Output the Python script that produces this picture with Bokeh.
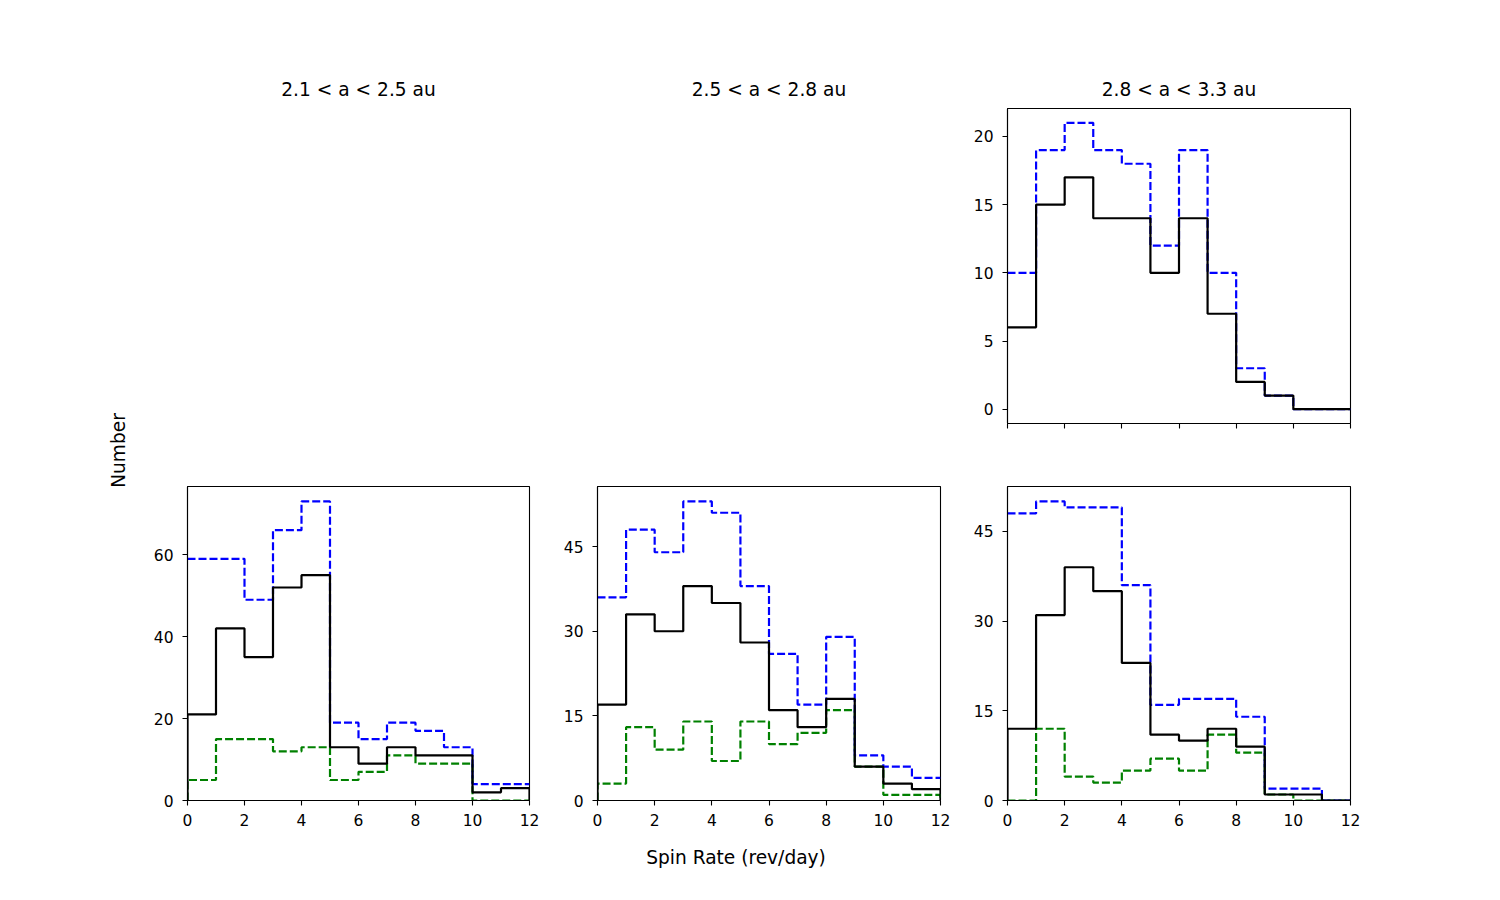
import numpy as np
from bokeh.plotting import figure
from bokeh.layouts import row, column
from bokeh.models import Range1d, FixedTicker, Label
from bokeh.embed import file_html
from bokeh.resources import INLINE

# ---------------- data ----------------
edges = list(range(0, 13))  # spin-rate bin edges (rev/day)

titles = ["2.1 < a < 2.5 au", "2.5 < a < 2.8 au", "2.8 < a < 3.3 au"]

# top-right panel (2.8 < a < 3.3 au, upper)
top_black = [6, 15, 17, 14, 14, 10, 14, 7, 2, 1, 0, 0]
top_blue = [10, 19, 21, 19, 18, 12, 19, 10, 3, 1, 0, 0]

# bottom-left (2.1 < a < 2.5 au)
inner_black = [21, 42, 35, 52, 55, 13, 9, 13, 11, 11, 2, 3]
inner_blue = [59, 59, 49, 66, 73, 19, 15, 19, 17, 13, 4, 4]
inner_green = [5, 15, 15, 12, 13, 5, 7, 11, 9, 9, 0, 0]

# bottom-middle (2.5 < a < 2.8 au)
mid_black = [17, 33, 30, 38, 35, 28, 16, 13, 18, 6, 3, 2]
mid_blue = [36, 48, 44, 53, 51, 38, 26, 17, 29, 8, 6, 4]
mid_green = [3, 13, 9, 14, 7, 14, 10, 12, 16, 6, 1, 1]

# bottom-right (2.8 < a < 3.3 au)
outer_black = [12, 31, 39, 35, 23, 11, 10, 12, 9, 1, 1, 0]
outer_blue = [48, 50, 49, 49, 36, 16, 17, 17, 14, 2, 2, 0]
outer_green = [0, 12, 4, 3, 5, 7, 5, 11, 8, 1, 0, 0]

x_ticks = [0, 2, 4, 6, 8, 10, 12]
top_y_ticks = [0, 5, 10, 15, 20]
inner_y_ticks = [0, 20, 40, 60]
mid_y_ticks = [0, 15, 30, 45]
outer_y_ticks = [0, 15, 30, 45]

x_label = "Spin Rate (rev/day)"
y_label = "Number"

# ---------------- style ----------------
FONT = "DejaVu Sans"
TICK_FS = "15.5px"
LABEL_FS = "18.6px"
BLUE = "#0000ff"
GREEN = "#008000"
DASH = "8 3"
LW = 2.2


def hist_path(counts, closed=True):
    e = np.asarray(edges, dtype=float)
    c = np.asarray(counts, dtype=float)
    xs = np.repeat(e, 2)
    ys = np.concatenate([[0.0], np.repeat(c, 2), [0.0]])
    if not closed:
        xs = xs[1:-1]
        ys = ys[1:-1]
    return xs, ys


def style_title(p):
    p.title.text_font = FONT
    p.title.text_font_size = LABEL_FS
    p.title.text_font_style = "normal"
    p.title.align = "center"
    p.title.text_color = "black"
    p.title.standoff = 17


def blank_fig(width, height, xr, yr, title=None, **kw):
    p = figure(width=width, height=height, x_range=Range1d(*xr), y_range=Range1d(*yr),
               x_axis_location=None, y_axis_location=None,
               toolbar_location=None, output_backend="svg", title=title, **kw)
    p.outline_line_color = None
    p.grid.visible = False
    if title is not None:
        style_title(p)
    return p


def panel(width, bl, br, height, bt, bb, yr, yticks, show_xlabels=True, title=None):
    p = figure(width=width, height=height, min_border_left=bl, min_border_right=br,
               min_border_top=bt, min_border_bottom=bb,
               x_range=Range1d(0, 12), y_range=Range1d(*yr),
               toolbar_location=None, output_backend="svg", title=title)
    p.grid.visible = False
    p.outline_line_color = "black"
    p.outline_line_width = 1.1
    for ax, ticks, so in ((p.xaxis[0], x_ticks, 8), (p.yaxis[0], yticks, 9)):
        ax.ticker = FixedTicker(ticks=ticks)
        ax.minor_tick_line_color = None
        ax.major_tick_in = 0
        ax.major_tick_out = 5
        ax.major_tick_line_color = "black"
        ax.major_tick_line_width = 1.1
        ax.axis_line_color = "black"
        ax.axis_line_width = 1.1
        ax.major_label_text_font = FONT
        ax.major_label_text_font_size = TICK_FS
        ax.major_label_text_color = "black"
        ax.major_label_standoff = so
    if not show_xlabels:
        p.xaxis[0].major_label_text_color = None
    if title is not None:
        style_title(p)
    return p


def add_hist(p, counts, color, dash, closed=True):
    xs, ys = hist_path(counts, closed)
    p.line(xs, ys, line_color=color, line_width=LW, line_dash=dash)


# geometry (columns: 150 | 403 | 410 | 537)
TOP_H, TOP_BT, TOP_BB = 455, 108, 32
BOT_H, BOT_BT, BOT_BB = 380, 31, 35
STRIP_H = 65
C1 = dict(width=403, left=37, right=24)
C2 = dict(width=410, left=44, right=23)
C3 = dict(width=537, left=44, right=150)

# y-label strip (full height, left)
ylab = blank_fig(150, 900, (0, 150), (0, 900), min_border=0)
ylab.add_layout(Label(x=118, y=450, text=y_label, angle=np.pi / 2, text_align="center",
                      text_baseline="middle", text_font=FONT, text_font_size=LABEL_FS,
                      text_color="black"))

# top row
tl = blank_fig(C1["width"], TOP_H, (0, 1), (0, 1), title=titles[0], min_border_left=C1["left"],
               min_border_right=C1["right"], min_border_top=TOP_BT, min_border_bottom=TOP_BB)
tm = blank_fig(C2["width"], TOP_H, (0, 1), (0, 1), title=titles[1], min_border_left=C2["left"],
               min_border_right=C2["right"], min_border_top=TOP_BT, min_border_bottom=TOP_BB)
tr = panel(C3["width"], C3["left"], C3["right"], TOP_H, TOP_BT, TOP_BB, (-1.05, 22.05),
           top_y_ticks, show_xlabels=False, title=titles[2])
add_hist(tr, top_blue, BLUE, DASH, closed=False)
add_hist(tr, top_black, "black", "solid", closed=False)

# bottom row
bl = panel(C1["width"], C1["left"], C1["right"], BOT_H, BOT_BT, BOT_BB, (0, 76.65), inner_y_ticks)
add_hist(bl, inner_green, GREEN, DASH)
add_hist(bl, inner_blue, BLUE, DASH, closed=False)
add_hist(bl, inner_black, "black", "solid")

bm = panel(C2["width"], C2["left"], C2["right"], BOT_H, BOT_BT, BOT_BB, (0, 55.65), mid_y_ticks)
add_hist(bm, mid_green, GREEN, DASH)
add_hist(bm, mid_blue, BLUE, DASH, closed=False)
add_hist(bm, mid_black, "black", "solid")

br = panel(C3["width"], C3["left"], C3["right"], BOT_H, BOT_BT, BOT_BB, (0, 52.5), outer_y_ticks)
add_hist(br, outer_green, GREEN, DASH)
add_hist(br, outer_blue, BLUE, DASH, closed=False)
add_hist(br, outer_black, "black", "solid")

# x-label strip (bottom)
xlab = blank_fig(1350, STRIP_H, (0, 1350), (0, STRIP_H), min_border=0)
xlab.add_layout(Label(x=585.5, y=STRIP_H - 22, text=x_label, text_align="center",
                      text_baseline="middle", text_font=FONT, text_font_size=LABEL_FS,
                      text_color="black"))

layout = row(ylab, column(row(tl, tm, tr), row(bl, bm, br), xlab))
layout.spacing = 0
open("out.html", "w").write(file_html(layout, INLINE))
